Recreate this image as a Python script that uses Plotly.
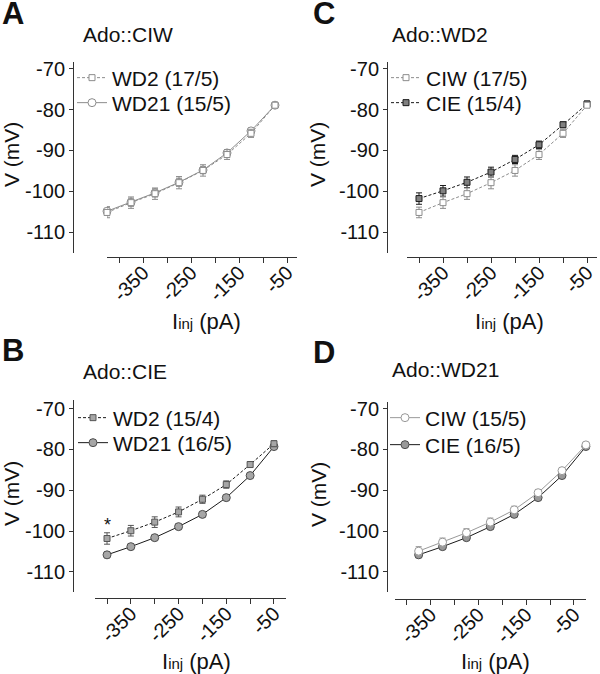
import plotly.graph_objects as go

W, H = 600, 674

# ---------------- data ----------------
I_INJ_BC = [-400, -350, -300, -250, -200, -150, -100, -50]      # panels B, C (as drawn)
I_INJ_A = [-425, -375, -325, -275, -225, -175, -125, -75]       # panel A (as drawn)
I_INJ_D = [-375, -325, -275, -225, -175, -125, -75, -25]        # panel D (as drawn)

WD2_CIW = [-105.2, -102.8, -100.6, -97.9, -94.9, -91.0, -85.8, -78.9]     # n = 17/5
WD2_CIW_ERR = [1.3, 1.4, 1.4, 1.5, 1.4, 1.2, 1.0, 0.5]
WD21_CIW = [-104.9, -102.7, -100.4, -97.8, -94.8, -90.6, -85.2, -78.9]    # n = 15/5
WD21_CIW_ERR = [1.1, 1.0, 1.0, 1.0, 0.9, 0.8, 0.7, 0.5]
WD2_CIE = [-101.8, -99.9, -97.8, -95.3, -92.2, -88.6, -83.7, -78.6]       # n = 15/4
WD2_CIE_ERR = [1.4, 1.3, 1.3, 1.2, 1.0, 0.9, 0.7, 0.7]
WD21_CIE = [-105.8, -103.8, -101.6, -98.9, -95.9, -91.8, -86.4, -79.3]    # n = 16/5
WD21_CIE_ERR = [0.7, 0.6, 0.6, 0.6, 0.6, 0.5, 0.5, 0.5]

X_TICKS = [-350, -250, -150, -50]
X_TICKTEXT = ["-350", "-250", "-150", "-50"]
Y_TICKS = [-110, -100, -90, -80, -70]
Y_TICKTEXT = ["-110", "-100", "-90", "-80", "-70"]

FONT = "Liberation Sans, Arial, Helvetica, sans-serif"
AX = "#333333"
TXT = "#111111"


def fx(px):
    return px / W


def fy(py):
    return 1 - py / H


fig = go.Figure()


def add(x, y, err, name, ax, symbol, size, fill, outline, lcolor, dash, legend):
    fig.add_trace(go.Scatter(
        x=x, y=y, name=name, mode="lines+markers",
        xaxis="x" + ax, yaxis="y" + ax,
        line=dict(color=lcolor, width=1, dash=dash),
        marker=dict(symbol=symbol, size=size, color=fill,
                    line=dict(color=outline, width=1)),
        error_y=dict(type="data", array=err, color=outline, thickness=1, width=3),
        cliponaxis=False, legend=legend, showlegend=True,
    ))


DASH = "3px,2px"
# Panel A: Ado::CIW
add(I_INJ_A, WD21_CIW, WD21_CIW_ERR, "WD21 (15/5)", "", "circle", 8, "white", "#8c8c8c", "#8c8c8c", "solid", "legend2")
add(I_INJ_A, WD2_CIW, WD2_CIW_ERR, "WD2 (17/5)", "", "square", 6, "white", "#8c8c8c", "#8c8c8c", DASH, "legend")
# Panel B: Ado::CIE
add(I_INJ_BC, WD21_CIE, WD21_CIE_ERR, "WD21 (16/5)", "2", "circle", 8, "#a6a6a6", "#4d4d4d", "#1a1a1a", "solid", "legend4")
add(I_INJ_BC, WD2_CIE, WD2_CIE_ERR, "WD2 (15/4)", "2", "square", 6, "#a6a6a6", "#555555", "#1a1a1a", DASH, "legend3")
# Panel C: Ado::WD2
add(I_INJ_BC, WD2_CIE, WD2_CIE_ERR, "CIE (15/4)", "3", "square", 6, "#808080", "#1a1a1a", "#1a1a1a", DASH, "legend6")
add(I_INJ_BC, WD2_CIW, WD2_CIW_ERR, "CIW (17/5)", "3", "square", 6, "white", "#8c8c8c", "#8c8c8c", DASH, "legend5")
# Panel D: Ado::WD21
add(I_INJ_D, WD21_CIE, WD21_CIE_ERR, "CIE (16/5)", "4", "circle", 8, "#999999", "#4d4d4d", "#1a1a1a", "solid", "legend8")
add(I_INJ_D, WD21_CIW, WD21_CIW_ERR, "CIW (15/5)", "4", "circle", 8, "white", "#999999", "#999999", "solid", "legend7")


def xaxis(d0, d1, rng, pos):
    return dict(domain=[fx(d0), fx(d1)], range=rng, anchor="free", position=fy(pos),
                showline=True, linecolor=AX, linewidth=1, ticks="outside", ticklen=5,
                tickwidth=1, tickcolor=AX, tickmode="array", tickvals=X_TICKS, ticktext=X_TICKTEXT,
                minor=dict(tickmode="linear", tick0=0, dtick=50, ticks="outside", ticklen=5,
                           tickwidth=1, tickcolor=AX, showgrid=False),
                tickangle=-45, ticklabelstandoff=-10,
                tickfont=dict(size=20, color=TXT, family=FONT),
                showgrid=False, zeroline=False, fixedrange=True)


def yaxis(top, bot, rng, pos):
    return dict(domain=[fy(bot), fy(top)], range=rng, anchor="free", position=fx(pos),
                showline=True, linecolor=AX, linewidth=1, ticks="outside", ticklen=4,
                tickwidth=1, tickcolor=AX, tickmode="array", tickvals=Y_TICKS, ticktext=Y_TICKTEXT,
                tickfont=dict(size=20, color=TXT, family=FONT),
                showgrid=False, zeroline=False, fixedrange=True)


def legend(xl, yc):
    return dict(x=fx(xl - 5), y=fy(yc), xanchor="left", yanchor="middle",
                bgcolor="rgba(0,0,0,0)", borderwidth=0,
                font=dict(size=21, color=TXT, family=FONT))


annotations = []


def text(s, x, y, size, bold=False, angle=0, xanchor="left", **kw):
    annotations.append(dict(text=("<b>%s</b>" % s) if bold else s, x=fx(x), y=fy(y),
                            xref="paper", yref="paper", xanchor=xanchor, yanchor="middle",
                            showarrow=False, textangle=angle,
                            font=dict(size=size, color=TXT, family=FONT), **kw))


# panel letters and titles
text("A", 0, 13, 31, bold=True, height=26)
text("B", 0, 350, 31, bold=True, height=26)
text("C", 311, 13, 31, bold=True, height=26)
text("D", 311, 352, 31, bold=True, height=26)
text("Ado::CIW", 81, 35, 21)
text("Ado::CIE", 81, 371, 21)
text("Ado::WD2", 390, 35, 21)
text("Ado::WD21", 390, 369, 21)
# axis titles
XTITLE = "I<span style='font-size:15px'>inj</span> (pA)"
for (xc, yc) in [(207, 322), (196, 661), (509, 322), (495, 661)]:
    text(XTITLE, xc, yc, 22, xanchor="center")
for (xc, yc) in [(11, 155), (11, 494), (317, 155), (318, 495)]:
    text("V (mV)", xc, yc, 21, angle=-90, xanchor="center")
# significance marker
annotations.append(dict(text="*", x=-400, y=-98.4, xref="x2", yref="y2",
                        xanchor="center", yanchor="middle", showarrow=False,
                        font=dict(size=18, color=TXT, family=FONT)))

fig.update_layout(
    width=W, height=H, margin=dict(l=0, r=0, t=0, b=0, autoexpand=False),
    paper_bgcolor="white", plot_bgcolor="white",
    font=dict(family=FONT, color=TXT),
    xaxis=xaxis(107, 297, [-425, -29.2], 257),
    yaxis=yaxis(62, 253, [-115.15, -68.3], 73),
    xaxis2=xaxis(95, 286, [-425.2, -24.8], 598),
    yaxis2=yaxis(400, 592, [-114.9, -67.9], 73),
    xaxis3=xaxis(407, 597, [-425, -29.2], 257),
    yaxis3=yaxis(62, 253, [-115.15, -68.3], 387),
    xaxis4=xaxis(395, 586, [-424.5, -24.8], 599),
    yaxis4=yaxis(402, 592, [-114.9, -68.4], 387),
    legend=legend(77, 78), legend2=legend(77, 103),
    legend3=legend(78, 418), legend4=legend(78, 443),
    legend5=legend(391, 78), legend6=legend(391, 103),
    legend7=legend(390, 418), legend8=legend(390, 445),
    annotations=annotations,
    hovermode=False,
)

fig.write_html("out.html", config={"displayModeBar": False},
               post_script="document.body.style.margin='0';document.body.style.padding='0';")
